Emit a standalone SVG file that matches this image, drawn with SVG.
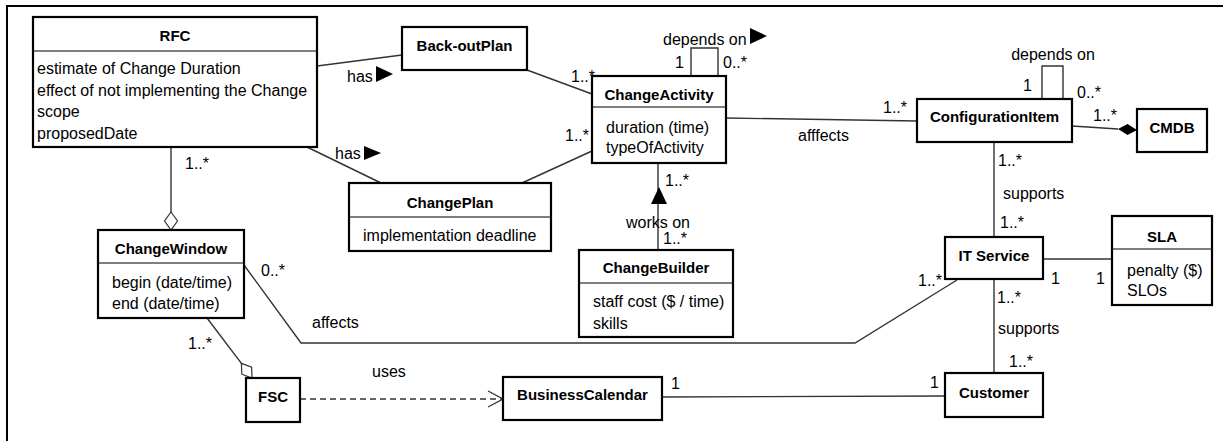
<svg xmlns="http://www.w3.org/2000/svg" width="1223" height="441" viewBox="0 0 1223 441">
<style>
text{font-family:"Liberation Sans",Arial,sans-serif;font-size:16px;fill:#000}
.t{font-weight:bold;font-size:15px;text-anchor:middle}
.box{fill:#fff;stroke:#000;stroke-width:2.2}
.sep{stroke:#000;stroke-width:1.2}
.c{fill:none;stroke:#333;stroke-width:1.4}
.d{stroke-dasharray:6 4}
.f{fill:#000;stroke:none}
.h{fill:#fff;stroke:#333;stroke-width:1.2}
</style>
<rect width="1223" height="441" fill="#fff"/>
<path d="M7,441 V6 H1223" fill="none" stroke="#000" stroke-width="2"/>
<g id="connectors">
<line class="c" x1="317" y1="66" x2="402" y2="55"/>
<text x="347" y="82">has</text><polygon class="f" points="376,66 393,74 376,82"/>
<line class="c" x1="527" y1="70" x2="592" y2="94"/>
<text x="571" y="82">1..*</text>
<line class="c" x1="307" y1="147" x2="381" y2="183"/>
<text x="335" y="159">has</text><polygon class="f" points="364,146 381,153 364,160"/>
<line class="c" x1="522" y1="183" x2="592" y2="151"/>
<text x="565" y="141">1..*</text>
<polyline class="c" points="691,76 691,48 718,48 718,76"/>
<text x="675" y="68">1</text><text x="723" y="68">0..*</text>
<text x="663" y="45">depends on</text><polygon class="f" points="750,28 767,36 750,44"/>
<line class="c" x1="658" y1="163" x2="658" y2="250"/>
<polygon class="f" points="659,187 667,204 651,204"/>
<text x="665" y="186">1..*</text>
<text x="658" y="228" text-anchor="middle">works on</text>
<text x="663" y="244">1..*</text>
<line class="c" x1="726" y1="118" x2="917" y2="121"/>
<text x="798" y="141">afffects</text><text x="883" y="113">1..*</text>
<polyline class="c" points="1042,99 1042,66 1063,66 1063,99"/>
<text x="1023" y="91">1</text><text x="1077" y="98">0..*</text>
<text x="1053" y="60" text-anchor="middle">depends on</text>
<line class="c" x1="1072" y1="126" x2="1118" y2="129"/>
<polygon class="f" points="1137,130 1127.5,124 1118,129 1127.5,135"/>
<text x="1093" y="121">1..*</text>
<line class="c" x1="994" y1="142" x2="994" y2="237"/>
<text x="998" y="166">1..*</text><text x="1003" y="199">supports</text><text x="1000" y="228">1..*</text>
<line class="c" x1="1043" y1="259" x2="1112" y2="259"/>
<text x="1051" y="284">1</text><text x="1096" y="284">1</text>
<line class="c" x1="994" y1="279" x2="994" y2="373"/>
<text x="997" y="303">1..*</text><text x="998" y="334">supports</text><text x="1009" y="367">1..*</text>
<line class="c" x1="662" y1="397" x2="945" y2="396"/>
<text x="671" y="389">1</text><text x="930" y="388">1</text>
<line class="c d" x1="300" y1="399" x2="502" y2="399"/>
<polyline class="c" points="488,391 503,399 488,407"/>
<text x="372" y="377">uses</text>
<line class="c" x1="171" y1="147" x2="171" y2="212"/>
<polygon class="h" points="171,212 177.5,221 171,230 164.5,221"/>
<text x="185" y="169">1..*</text>
<line class="c" x1="207" y1="318" x2="241.4" y2="363.4"/>
<polygon class="h" points="241.4,363.4 251.6,367.2 252,378 241.8,374.2"/>
<text x="188" y="349">1..*</text>
<polyline class="c" points="244,265 301,343 855,343 957,280"/>
<text x="261" y="276">0..*</text><text x="312" y="328">affects</text><text x="918" y="286">1..*</text>
</g>
<g id="RFC">
<rect class="box" x="33" y="17" width="284" height="130"/>
<line class="sep" x1="33" y1="51" x2="317" y2="51"/>
<text class="t" x="175" y="41">RFC</text>
<text x="37" y="74">estimate of Change Duration</text>
<text x="37" y="96">effect of not implementing the Change</text>
<text x="37" y="117">scope</text>
<text x="37" y="139">proposedDate</text>
</g>
<g id="BackoutPlan">
<rect class="box" x="402" y="27" width="125" height="43"/>
<text class="t" x="464.5" y="51">Back-outPlan</text>
</g>
<g id="ChangeActivity">
<rect class="box" x="592" y="76" width="134" height="87"/>
<line class="sep" x1="592" y1="107" x2="726" y2="107"/>
<text class="t" x="659" y="100">ChangeActivity</text>
<text x="606" y="133">duration (time)</text>
<text x="606" y="153">typeOfActivity</text>
</g>
<g id="ChangePlan">
<rect class="box" x="349" y="183" width="202" height="68"/>
<line class="sep" x1="349" y1="217" x2="551" y2="217"/>
<text class="t" x="450" y="208">ChangePlan</text>
<text x="363" y="241">implementation deadline</text>
</g>
<g id="ChangeBuilder">
<rect class="box" x="579" y="250" width="154" height="87"/>
<line class="sep" x1="579" y1="283" x2="733" y2="283"/>
<text class="t" x="656" y="273">ChangeBuilder</text>
<text x="593" y="307">staff cost ($ / time)</text>
<text x="593" y="329">skills</text>
</g>
<g id="ConfigurationItem">
<rect class="box" x="917" y="99" width="155" height="43"/>
<text class="t" x="994.5" y="122">ConfigurationItem</text>
</g>
<g id="CMDB">
<rect class="box" x="1137" y="109" width="70" height="43"/>
<text class="t" x="1172" y="133">CMDB</text>
</g>
<g id="ITService">
<rect class="box" x="945" y="237" width="98" height="42"/>
<text class="t" x="994" y="261">IT Service</text>
</g>
<g id="SLA">
<rect class="box" x="1112" y="216" width="100" height="89"/>
<line class="sep" x1="1112" y1="249" x2="1212" y2="249"/>
<text class="t" x="1162" y="242">SLA</text>
<text x="1127" y="276">penalty ($)</text>
<text x="1127" y="296">SLOs</text>
</g>
<g id="Customer">
<rect class="box" x="945" y="373" width="98" height="44"/>
<text class="t" x="994" y="398">Customer</text>
</g>
<g id="BusinessCalendar">
<rect class="box" x="503" y="377" width="159" height="43"/>
<text class="t" x="582.5" y="400">BusinessCalendar</text>
</g>
<g id="FSC">
<rect class="box" x="246" y="378" width="54" height="44"/>
<text class="t" x="273" y="402">FSC</text>
</g>
<g id="ChangeWindow">
<rect class="box" x="98" y="230" width="146" height="88"/>
<line class="sep" x1="98" y1="263" x2="244" y2="263"/>
<text class="t" x="171" y="254">ChangeWindow</text>
<text x="112" y="288">begin (date/time)</text>
<text x="112" y="309">end (date/time)</text>
</g>
</svg>
